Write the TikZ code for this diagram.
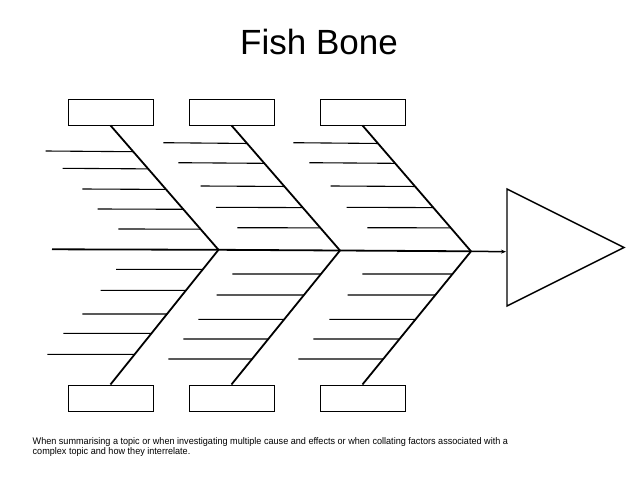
\documentclass[tikz,border=0pt]{standalone}
\usepackage{fontspec}
\setmainfont{Liberation Sans}
\usetikzlibrary{arrows.meta,calc}
\begin{document}
\begin{tikzpicture}[x=1pt,y=-1pt,
  catbox/.style={draw,line width=0.9pt,minimum width=85pt,minimum height=26pt,inner sep=0pt,anchor=north west},
  bone/.style={line width=1.8pt},
  spine/.style={line width=1.8pt},
  rib/.style={line width=1.1pt},
  note/.style={anchor=base west,inner sep=0pt,xscale=0.947,font=\fontsize{9.6}{10}\selectfont},
  effect/.style={draw,line width=1.4pt,line join=miter}]
\useasboundingbox (0,0) rectangle (638,479);
% title
\node[anchor=base,font=\fontsize{35}{42}\selectfont,inner sep=0pt] (title) at (319,54) {Fish Bone};
% boxes
\node[catbox] (t1) at (67.5,98.5) {};
\node[catbox] (t2) at (188.5,98.5) {};
\node[catbox] (t3) at (319.5,98.5) {};
\node[catbox] (b1) at (67.5,384.5) {};
\node[catbox] (b2) at (188.5,384.5) {};
\node[catbox] (b3) at (319.5,384.5) {};
% spine joints
\coordinate (s0) at (52,249.3);
\coordinate (j1) at (218.5,249.8);
\coordinate (j2) at (340,250.5);
\coordinate (j3) at (471,251.3);
\coordinate (s4) at (506,251.7);
% triangle
\coordinate (e1) at (507,189);
\coordinate (e2) at (507,306);
\coordinate (e3) at (624,247.5);
\draw[effect] (e1) -- (e3) -- (e2) -- cycle;
% spine
\draw[spine] (s0) -- (j1) -- (j2) -- (j3);
\draw[line width=1.5pt,-{Stealth[length=5pt,width=4pt]}] (j3) -- (s4);
% bones
\draw[bone] (t1.south) -- (j1);
\draw[bone] (b1.north) -- (j1);
\draw[bone] (t2.south) -- (j2);
\draw[bone] (b2.north) -- (j2);
\draw[bone] (t3.south) -- (j3);
\draw[bone] (b3.north) -- (j3);
% ribs: upper bones
\foreach \y/\x in {151/45.7,168.3/62.7,189/82.3,209/97.7,229/118.3}{
  \draw[rib] (\x,\y) -- ($(t1.south)!{(\y-124.5)/(249.8-124.5)}!(j1)$);}
\foreach \y/\x in {142.7/163.3,162.7/178.3,186/200.7,207.3/216,227.7/237.3}{
  \draw[rib] (\x,\y) -- ($(t2.south)!{(\y-124.5)/(250.5-124.5)}!(j2)$);}
\foreach \y/\x in {142.7/293.3,162.7/309.3,186/330.7,207.3/346.7,227.7/367.3}{
  \draw[rib] (\x,\y) -- ($(t3.south)!{(\y-124.5)/(251.3-124.5)}!(j3)$);}
% ribs: lower bones
\foreach \y/\x in {269.3/116,290.3/100.7,314/82.3,333.3/63.3,354.3/47.3}{
  \draw[rib] (\x,\y) -- ($(j1)!{(\y-249.8)/(384.5-249.8)}!(b1.north)$);}
\foreach \y/\x in {274/232.3,295/216.7,319.3/198.3,339/183.3,359/168.3}{
  \draw[rib] (\x,\y) -- ($(j2)!{(\y-250.5)/(384.5-250.5)}!(b2.north)$);}
\foreach \y/\x in {274/362.3,295/347.7,319.3/329.3,339/313.3,359/298.3}{
  \draw[rib] (\x,\y) -- ($(j3)!{(\y-251.3)/(384.5-251.3)}!(b3.north)$);}
% note
\node[note] (n1) at (32.5,444) {When summarising a topic or when investigating multiple cause and effects or when collating factors associated with a};
\node[note] (n2) at (32.5,454.3) {complex topic and how they interrelate.};
\end{tikzpicture}
\end{document}
